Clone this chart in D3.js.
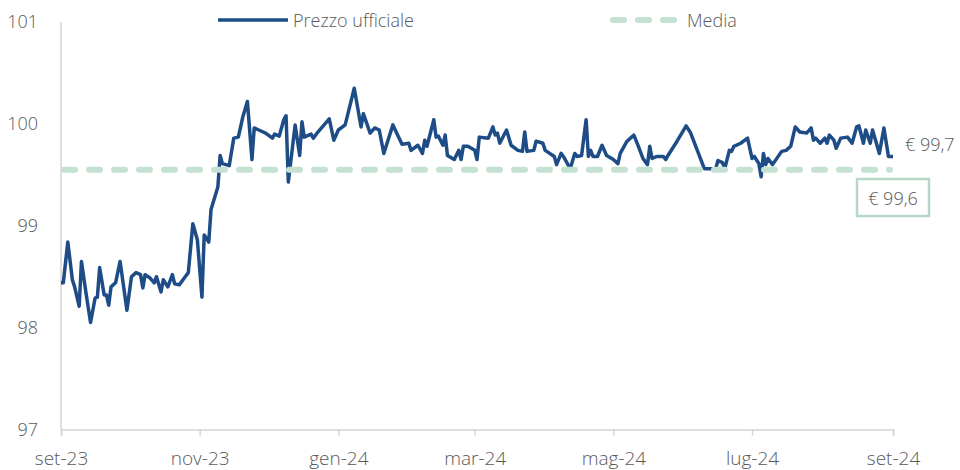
<!DOCTYPE html>
<html>
<head>
<meta charset="utf-8">
<script src="https://cdn.jsdelivr.net/npm/d3@7"></script>
<style>
body{margin:0;background:#fff}
svg{display:block}
text{font-family:"Segoe UI Light","Open Sans",Lato,sans-serif;font-weight:300;fill:#595959}
</style>
</head>
<body>
<div id="chart"></div>
<script>
// prezzo ufficiale (date, valore)
const dates=["2023-09-01","2023-09-02","2023-09-04","2023-09-06","2023-09-07","2023-09-09","2023-09-10","2023-09-12","2023-09-14","2023-09-16",
"2023-09-17","2023-09-18","2023-09-20","2023-09-21","2023-09-22","2023-09-23","2023-09-25","2023-09-27","2023-09-30","2023-10-02",
"2023-10-04","2023-10-06","2023-10-07","2023-10-08","2023-10-10","2023-10-12","2023-10-13","2023-10-15","2023-10-16","2023-10-18",
"2023-10-20","2023-10-21","2023-10-23","2023-10-25","2023-10-27","2023-10-29","2023-10-31","2023-11-02","2023-11-03","2023-11-05",
"2023-11-06","2023-11-09","2023-11-10","2023-11-11","2023-11-14","2023-11-16","2023-11-18","2023-11-20","2023-11-22","2023-11-24",
"2023-11-25","2023-11-27","2023-11-30","2023-12-03","2023-12-04","2023-12-06","2023-12-08","2023-12-09","2023-12-10","2023-12-13",
"2023-12-15","2023-12-16","2023-12-17","2023-12-20","2023-12-21","2023-12-23","2023-12-28","2023-12-30","2024-01-01","2024-01-04",
"2024-01-08","2024-01-11","2024-01-12","2024-01-15","2024-01-17","2024-01-19","2024-01-21","2024-01-25","2024-01-29","2024-02-01",
"2024-02-02","2024-02-05","2024-02-07","2024-02-08","2024-02-09","2024-02-12","2024-02-13","2024-02-14","2024-02-16","2024-02-17",
"2024-02-18","2024-02-21","2024-02-23","2024-02-24","2024-02-25","2024-02-27","2024-03-01","2024-03-02","2024-03-03","2024-03-07",
"2024-03-09","2024-03-10","2024-03-11","2024-03-12","2024-03-15","2024-03-17","2024-03-20","2024-03-22","2024-03-23","2024-03-24",
"2024-03-27","2024-03-28","2024-03-31","2024-04-01","2024-04-05","2024-04-06","2024-04-08","2024-04-09","2024-04-12","2024-04-14",
"2024-04-15","2024-04-17","2024-04-19","2024-04-20","2024-04-21","2024-04-22","2024-04-24","2024-04-26","2024-04-28","2024-05-01",
"2024-05-03","2024-05-04","2024-05-07","2024-05-10","2024-05-12","2024-05-14","2024-05-16","2024-05-17","2024-05-18","2024-05-20",
"2024-05-23","2024-05-24","2024-05-25","2024-05-29","2024-06-02","2024-06-04","2024-06-10","2024-06-15","2024-06-16","2024-06-18",
"2024-06-19","2024-06-21","2024-06-22","2024-06-23","2024-06-26","2024-06-29","2024-07-01","2024-07-02","2024-07-04","2024-07-05",
"2024-07-06","2024-07-07","2024-07-08","2024-07-10","2024-07-14","2024-07-16","2024-07-18","2024-07-20","2024-07-22","2024-07-25",
"2024-07-27","2024-07-28","2024-07-29","2024-07-31","2024-08-02","2024-08-03","2024-08-04","2024-08-06","2024-08-07","2024-08-09",
"2024-08-12","2024-08-14","2024-08-16","2024-08-17","2024-08-19","2024-08-20","2024-08-22","2024-08-23","2024-08-26","2024-08-28",
"2024-08-30","2024-09-01"]

const prices=[98.44,98.44,98.84,98.47,98.40,98.21,98.65,98.34,98.05,98.29,
98.30,98.59,98.32,98.32,98.22,98.40,98.44,98.65,98.17,98.50,
98.54,98.52,98.39,98.52,98.49,98.44,98.50,98.35,98.47,98.40,
98.52,98.43,98.42,98.48,98.54,99.02,98.86,98.30,98.91,98.84,
99.16,99.38,99.69,99.61,99.59,99.86,99.87,100.07,100.22,99.65,
99.96,99.94,99.91,99.86,99.90,99.88,100.04,100.08,99.43,99.99,
99.69,100.02,99.87,99.90,99.86,99.92,100.05,99.84,99.94,99.99,
100.35,99.97,100.10,99.91,99.96,99.94,99.71,99.99,99.80,99.81,
99.74,99.79,99.71,99.84,99.78,100.04,99.87,99.88,99.79,99.89,
99.69,99.65,99.74,99.65,99.78,99.78,99.74,99.65,99.87,99.86,
99.97,99.89,99.91,99.81,99.94,99.79,99.74,99.73,99.92,99.73,
99.74,99.83,99.81,99.74,99.68,99.60,99.71,99.68,99.56,99.71,
99.68,99.69,100.04,99.68,99.74,99.68,99.68,99.79,99.69,99.65,
99.61,99.71,99.83,99.89,99.78,99.66,99.60,99.78,99.66,99.68,
99.68,99.65,99.69,99.83,99.98,99.91,99.56,99.56,99.64,99.62,
99.56,99.74,99.73,99.78,99.81,99.86,99.66,99.68,99.61,99.48,
99.71,99.60,99.66,99.60,99.73,99.74,99.78,99.97,99.92,99.91,
99.96,99.84,99.86,99.81,99.86,99.81,99.89,99.84,99.76,99.86,
99.87,99.81,99.97,99.98,99.81,99.94,99.81,99.94,99.71,99.96,
99.68,99.68]

const media=99.55
const lastLabel="€ 99,7"
const mediaLabel="€ 99,6"
const yTicks=[97,98,99,100,101]
const mesi=["gen","feb","mar","apr","mag","giu","lug","ago","set","ott","nov","dic"]
const seriesNames=["Prezzo ufficiale","Media"]

const width=960
const height=470
const blue="#1d4c87"
const green="#c4e1d2"

const parse=d3.timeParse("%Y-%m-%d")
const data=dates.map((d,i)=>({date:parse(d),value:prices[i]}))

const x=d3.scaleTime()
.domain([parse("2023-09-01"),parse("2024-09-01")])
.range([61,893])

const y=d3.scaleLinear()
.domain([97,101])
.range([429.5,22])

const svg=d3.select("#chart")
.append("svg")
.attr("width",width)
.attr("height",height)

// asse y
svg.append("line")
.attr("x1",61).attr("x2",61)
.attr("y1",y(101)).attr("y2",y(97))
.attr("stroke","#d4d4d4")
.attr("stroke-width",1.5)

svg.append("g")
.selectAll("text")
.data(yTicks)
.enter()
.append("text")
.attr("x",38)
.attr("y",d=>y(d))
.attr("dy","0.35em")
.attr("text-anchor","end")
.attr("font-size",18)
.text(d=>d)

// asse x
const xAxis=d3.axisBottom(x)
.ticks(d3.timeMonth.every(2))
.tickSize(6)
.tickPadding(16)
.tickFormat(d=>mesi[d.getMonth()]+"-"+String(d.getFullYear()).slice(2))

const gx=svg.append("g")
.attr("transform","translate(0,"+y(97)+")")
.call(xAxis)

gx.select(".domain").attr("stroke","#d4d4d4").attr("stroke-width",1.5)
gx.selectAll(".tick line").attr("stroke","#d4d4d4").attr("stroke-width",1.5)
gx.selectAll(".tick text")
.attr("font-size",19)
.attr("font-family",null)
.attr("fill","#595959")

// prezzo
const line=d3.line()
.x(d=>x(d.date))
.y(d=>y(d.value))

svg.append("path")
.datum(data)
.attr("fill","none")
.attr("stroke",blue)
.attr("stroke-width",3.5)
.attr("stroke-linejoin","round")
.attr("d",line)

// media
svg.append("line")
.attr("x1",x(data[0].date)+3)
.attr("x2",x(data[data.length-1].date)-3)
.attr("y1",y(media))
.attr("y2",y(media))
.attr("stroke",green)
.attr("stroke-width",6)
.attr("stroke-linecap","round")
.attr("stroke-dasharray","11,14")

// etichette
svg.append("text")
.attr("x",905)
.attr("y",y(prices[prices.length-1])-5)
.attr("font-size",18)
.text(lastLabel)

svg.append("rect")
.attr("x",857)
.attr("y",179)
.attr("width",72)
.attr("height",37)
.attr("fill","#fff")
.attr("stroke","#b8d8c7")
.attr("stroke-width",2.5)

svg.append("text")
.attr("x",893)
.attr("y",205)
.attr("text-anchor","middle")
.attr("font-size",18)
.text(mediaLabel)

// legenda
const legend=svg.append("g")

legend.append("line")
.attr("x1",218).attr("x2",288)
.attr("y1",20).attr("y2",20)
.attr("stroke",blue)
.attr("stroke-width",3.5)

legend.append("text")
.attr("x",293)
.attr("y",27)
.attr("font-size",18)
.text(seriesNames[0])

legend.append("line")
.attr("x1",613).attr("x2",678)
.attr("y1",20).attr("y2",20)
.attr("stroke",green)
.attr("stroke-width",6)
.attr("stroke-linecap","round")
.attr("stroke-dasharray","11,14")

legend.append("text")
.attr("x",687)
.attr("y",27)
.attr("font-size",18)
.attr("fill","#6f6f6f")
.text(seriesNames[1])
</script>
</body>
</html>
